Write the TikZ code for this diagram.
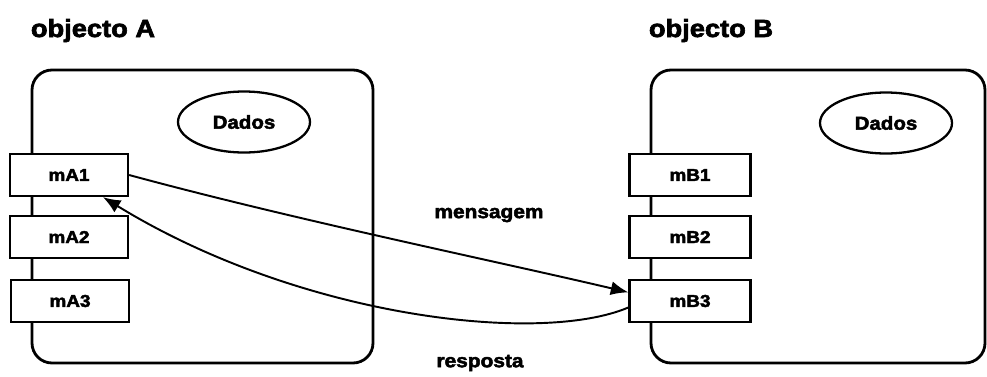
\documentclass[tikz,border=0pt]{standalone}
\usepackage{fontspec}
\newfontfamily\heavy[FakeBold=2.6,FakeStretch=1.1]{Liberation Sans Bold}
\usetikzlibrary{arrows.meta,shapes.geometric}
\begin{document}
\begin{tikzpicture}[x=0.02cm,y=-0.02cm,
  objbox/.style={draw,line width=1.6pt,rounded corners=0.4cm},
  method/.style={draw,fill=white,line width=1.3pt,minimum width=118*0.02cm,
    minimum height=42*0.02cm,inner sep=0pt,font=\heavy\fontsize{9.8pt}{11pt}\selectfont},
  data/.style={draw,ellipse,line width=1.3pt,minimum width=132*0.02cm,
    minimum height=61*0.02cm,inner sep=0pt,font=\heavy\fontsize{10.6pt}{12pt}\selectfont},
  title/.style={anchor=base,inner sep=0pt,font=\heavy\fontsize{14.1pt}{16pt}\selectfont},
  label/.style={inner sep=0pt,font=\heavy\fontsize{10.8pt}{12pt}\selectfont},
  link/.style={line width=1.1pt,-{Latex[length=10pt,width=8pt]}}]
\useasboundingbox (0,0) rectangle (987,376);

% object titles
\node[title] (tA) at (93,37) {objecto A};
\node[title] (tB) at (711,37) {objecto B};

% object outlines
\draw[objbox] (32,70) rectangle (373,363);
\draw[objbox] (651,70) rectangle (985,363);

% data ellipses
\node[data] (dA) at (244,122) {Dados};
\node[data] (dB) at (886,123) {Dados};

% methods of object A
\node[method] (mA1) at (69,175) {mA1};
\node[method] (mA2) at (69,237) {mA2};
\node[method] (mA3) at (70,301) {mA3};

% methods of object B
\node[method,minimum width=121*0.02cm] (mB1) at (690,175) {mB1};
\node[method,minimum width=121*0.02cm] (mB2) at (690,237) {mB2};
\node[method,minimum width=121*0.02cm] (mB3) at (690,301) {mB3};

% message and reply
\draw[link] (mA1.east) .. controls (295,220) and (500,262) .. (mB3.172);
\draw[link] (mB3.186) .. controls (540,345) and (300,318) .. ([xshift=34*0.02cm]mA1.south);

\node[label] (msg) at (489,215) {mensagem};
\node[label] (rsp) at (480,363) {resposta};
\end{tikzpicture}
\end{document}
